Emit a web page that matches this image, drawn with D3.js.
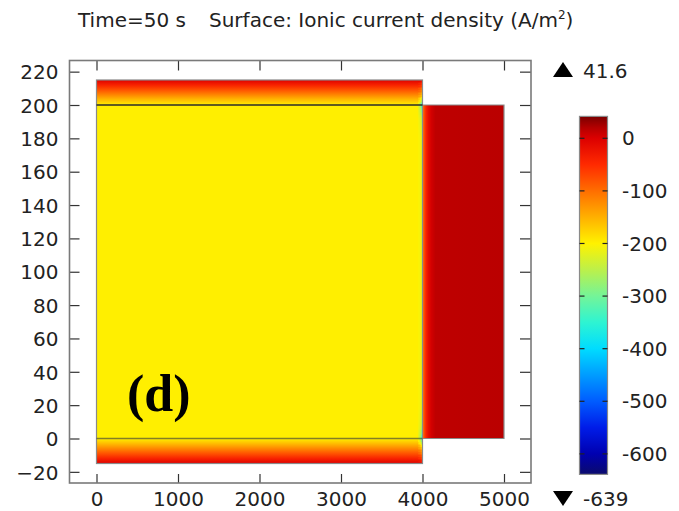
<!DOCTYPE html>
<html>
<head>
<meta charset="utf-8">
<script src="https://cdn.jsdelivr.net/npm/d3@7"></script>
<style>
  html, body { margin: 0; padding: 0; background: #fff; }
  svg { display: block; }
  text { font-family: "DejaVu Sans", sans-serif; fill: #222; }
</style>
</head>
<body>
<svg id="chart" width="679" height="511"></svg>
<script>
// ---- data ----
const titleTime = "Time=50 s";
const titleSurface = "Surface: Ionic current density (A/m";
const xTicks = [0, 1000, 2000, 3000, 4000, 5000];
const yTicks = [-20, 0, 20, 40, 60, 80, 100, 120, 140, 160, 180, 200, 220];
const colorTicks = [0, -100, -200, -300, -400, -500, -600];
const rangeMax = 41.6;
const rangeMin = -639;

// Rainbow colour table (value -> colour)
const cmapValues = [-639, -600, -550, -500, -450, -400, -350, -300, -250, -200, -150, -100, -50, 0, 20, 41.6];
const cmapColors = ["#0b0b6c", "#0000b0", "#001ce8", "#005cff", "#009cff", "#00dcff", "#2ef4d2", "#74f498",
                    "#bcf04a", "#fff200", "#ffb000", "#ff6e00", "#ff2a00", "#dc0000", "#b40000", "#7a0000"];

// Geometry of the two domains (µm)
const electrolyte = { x0: 0, x1: 4000, y0: -15, y1: 215 };
const electrode = { x0: 4000, x1: 5000, y0: 0, y1: 200 };
const interfaceLines = [0, 200];

// Current density across the electrolyte height (edge bands and bulk)
const bandY = [-15, -12, -9, -6, -3, 0, 200, 203, 206, 209, 212, 215];
const bandV = [-2, -40, -80, -120, -160, -198, -198, -160, -120, -80, -40, -2];

// Current density across the electrode width
const electrodeX = [4000, 4020, 4045, 4075, 4110, 4160, 5000];
const electrodeV = [-115, -75, -38, -12, 5, 15, 17];

// Shift of current density at the electrolyte/electrode boundary (by height)
const edgeY = [-15, -6, -2, 0, 3, 8, 20, 180, 192, 197, 200, 202, 206, 215];
const edgeShift = [-20, -50, -130, -210, -140, -70, -30, -30, -70, -140, -210, -130, -50, -20];
const edgeX = [3940, 3978, 4000];
const edgeWeight = [0, 0.4, 1];

// ---- scales ----
const svg = d3.select("#chart");
const x = d3.scaleLinear().domain([0, 5000]).range([96.5, 504]);
const y = d3.scaleLinear().domain([0, 200]).range([438.5, 105]);
const color = d3.scaleLinear().domain(cmapValues).range(cmapColors).interpolate(d3.interpolateRgb).clamp(true);
const bandScale = d3.scaleLinear().domain(bandY).range(bandV).clamp(true);
const edgeShiftScale = d3.scaleLinear().domain(edgeY).range(edgeShift).clamp(true);
const edgeWeightScale = d3.scaleLinear().domain(edgeX).range(edgeWeight).clamp(true);
const cbar = d3.scaleLinear().domain([rangeMin, rangeMax]).range([474.4, 116.4]);

const frame = { left: 69.5, right: 531, top: 60.5, bottom: 483 };
const defs = svg.append("defs");

// ---- title ----
svg.append("text").attr("x", 78).attr("y", 27).attr("font-size", 20).text(titleTime);
const t2 = svg.append("text").attr("x", 209).attr("y", 27).attr("font-size", 20);
t2.append("tspan").text(titleSurface);
t2.append("tspan").attr("font-size", 12).attr("dy", -8).text("2");
t2.append("tspan").attr("dy", 8).text(")");

// ---- electrolyte: vertical gradient ----
const gTop = y(electrolyte.y1), gBot = y(electrolyte.y0);
const gradV = defs.append("linearGradient").attr("id", "gElectrolyte")
  .attr("gradientUnits", "userSpaceOnUse")
  .attr("x1", 0).attr("x2", 0).attr("y1", gTop).attr("y2", gBot);
gradV.selectAll("stop").data(bandY.map((v, i) => ({ y: v, val: bandV[i] })).sort((a, b) => b.y - a.y))
  .join("stop")
  .attr("offset", d => (y(d.y) - gTop) / (gBot - gTop))
  .attr("stop-color", d => color(d.val));

const plot = svg.append("g");
plot.append("rect")
  .attr("x", x(electrolyte.x0)).attr("y", gTop)
  .attr("width", x(electrolyte.x1) - x(electrolyte.x0)).attr("height", gBot - gTop)
  .attr("fill", "url(#gElectrolyte)");

// boundary cells near the electrode
const cellW = 5, cellH = 1;
const cells = [];
for (let cx = edgeX[0]; cx < electrolyte.x1; cx += cellW) {
  for (let cy = electrolyte.y0; cy < electrolyte.y1; cy += cellH) {
    const xm = cx + cellW / 2, ym = cy + cellH / 2;
    cells.push({ x: cx, y: cy, v: bandScale(ym) + edgeShiftScale(ym) * edgeWeightScale(xm) });
  }
}
plot.append("g").attr("shape-rendering", "crispEdges").selectAll("rect").data(cells).join("rect")
  .attr("x", d => x(d.x)).attr("y", d => y(d.y + cellH))
  .attr("width", x(cellW) - x(0) + 0.05).attr("height", y(0) - y(cellH) + 0.05)
  .attr("fill", d => color(d.v));

// ---- electrode: horizontal gradient ----
const gradH = defs.append("linearGradient").attr("id", "gElectrode")
  .attr("gradientUnits", "userSpaceOnUse")
  .attr("x1", x(electrode.x0)).attr("x2", x(electrode.x1)).attr("y1", 0).attr("y2", 0);
gradH.selectAll("stop").data(electrodeX.map((v, i) => ({ x: v, val: electrodeV[i] })))
  .join("stop")
  .attr("offset", d => (x(d.x) - x(electrode.x0)) / (x(electrode.x1) - x(electrode.x0)))
  .attr("stop-color", d => color(d.val));
plot.append("rect")
  .attr("x", x(electrode.x0)).attr("y", y(electrode.y1))
  .attr("width", x(electrode.x1) - x(electrode.x0)).attr("height", y(electrode.y0) - y(electrode.y1))
  .attr("fill", "url(#gElectrode)");

// ---- domain outlines ----
plot.append("rect")
  .attr("x", x(electrolyte.x0)).attr("y", y(electrolyte.y1))
  .attr("width", x(electrolyte.x1) - x(electrolyte.x0)).attr("height", y(electrolyte.y0) - y(electrolyte.y1))
  .attr("fill", "none").attr("stroke", "#8a8a8a").attr("stroke-width", 1.2);
plot.append("path")
  .attr("d", `M${x(electrode.x0)},${y(electrode.y1)}H${x(electrode.x1)}V${y(electrode.y0)}H${x(electrode.x0)}`)
  .attr("fill", "none").attr("stroke", "#8a8a8a").attr("stroke-width", 1.2);
plot.selectAll("line.iface").data(interfaceLines).join("line").attr("class", "iface")
  .attr("x1", x(electrolyte.x0)).attr("x2", x(electrolyte.x1))
  .attr("y1", d => y(d)).attr("y2", d => y(d))
  .attr("stroke", d => d === 200 ? "#2a2a2a" : "#5a5a30").attr("stroke-opacity", d => d === 200 ? 1 : 0.75)
  .attr("stroke-width", 1.3);

// ---- axes (ticks on all four sides, pointing inward) ----
const axisStyle = g => {
  g.select(".domain").remove();
  g.selectAll(".tick line").attr("stroke", "#333").attr("stroke-width", 1.2);
  g.selectAll(".tick text").attr("font-size", 20).attr("font-family", "DejaVu Sans, sans-serif").attr("fill", "#222");
};
svg.append("g").attr("transform", `translate(${frame.left},0)`)
  .call(d3.axisLeft(y).tickValues(yTicks).tickSize(-10).tickPadding(11)).call(axisStyle)
  .selectAll(".tick text").attr("dy", "0.36em");
svg.append("g").attr("transform", `translate(${frame.right},0)`)
  .call(d3.axisRight(y).tickValues(yTicks).tickSize(-11).tickFormat("")).call(axisStyle);
svg.append("g").attr("transform", `translate(0,${frame.bottom})`)
  .call(d3.axisBottom(x).tickValues(xTicks).tickSize(-9).tickPadding(9).tickFormat(d3.format("d"))).call(axisStyle);
svg.append("g").attr("transform", `translate(0,${frame.top})`)
  .call(d3.axisTop(x).tickValues(xTicks).tickSize(-10).tickFormat("")).call(axisStyle);

svg.append("rect")
  .attr("x", frame.left).attr("y", frame.top)
  .attr("width", frame.right - frame.left).attr("height", frame.bottom - frame.top)
  .attr("fill", "none").attr("stroke", "#7a7a7a").attr("stroke-width", 1.6);

// ---- panel label ----
svg.append("text").attr("x", 127).attr("y", 411)
  .style("font-family", "'Liberation Serif', 'Times New Roman', serif")
  .style("font-weight", "bold").style("font-size", "52px").style("fill", "#000")
  .text("(d)");

// ---- colour bar ----
const cbX0 = 579.5, cbX1 = 607.5;
const gradC = defs.append("linearGradient").attr("id", "gLegend")
  .attr("gradientUnits", "userSpaceOnUse")
  .attr("x1", 0).attr("x2", 0).attr("y1", cbar(rangeMax)).attr("y2", cbar(rangeMin));
gradC.selectAll("stop").data(cmapValues.slice().reverse()).join("stop")
  .attr("offset", d => (cbar(d) - cbar(rangeMax)) / (cbar(rangeMin) - cbar(rangeMax)))
  .attr("stop-color", d => color(d));
svg.append("rect")
  .attr("x", cbX0).attr("y", cbar(rangeMax))
  .attr("width", cbX1 - cbX0).attr("height", cbar(rangeMin) - cbar(rangeMax))
  .attr("fill", "url(#gLegend)").attr("stroke", "#8a8a8a").attr("stroke-width", 1.2);
const ct = svg.append("g").selectAll("g").data(colorTicks).join("g");
ct.append("line").attr("x1", cbX0).attr("x2", cbX0 + 5).attr("y1", d => cbar(d)).attr("y2", d => cbar(d))
  .attr("stroke", "#222").attr("stroke-width", 1.2);
ct.append("line").attr("x1", cbX1 - 5).attr("x2", cbX1).attr("y1", d => cbar(d)).attr("y2", d => cbar(d))
  .attr("stroke", "#222").attr("stroke-width", 1.2);
ct.append("text").attr("x", 622).attr("y", d => cbar(d)).attr("dy", "0.36em")
  .attr("font-size", 20).text(d => d3.format("d")(d).replace("\u2212", "-"));

// max / min markers
svg.append("path").attr("d", "M553,77 L563,62 L573,77 Z").attr("fill", "#000");
svg.append("text").attr("x", 583).attr("y", 77.5).attr("font-size", 20).text(String(rangeMax));
svg.append("path").attr("d", "M553,491 L573,491 L563,506 Z").attr("fill", "#000");
svg.append("text").attr("x", 583).attr("y", 506).attr("font-size", 20).text(String(rangeMin));
</script>
</body>
</html>
